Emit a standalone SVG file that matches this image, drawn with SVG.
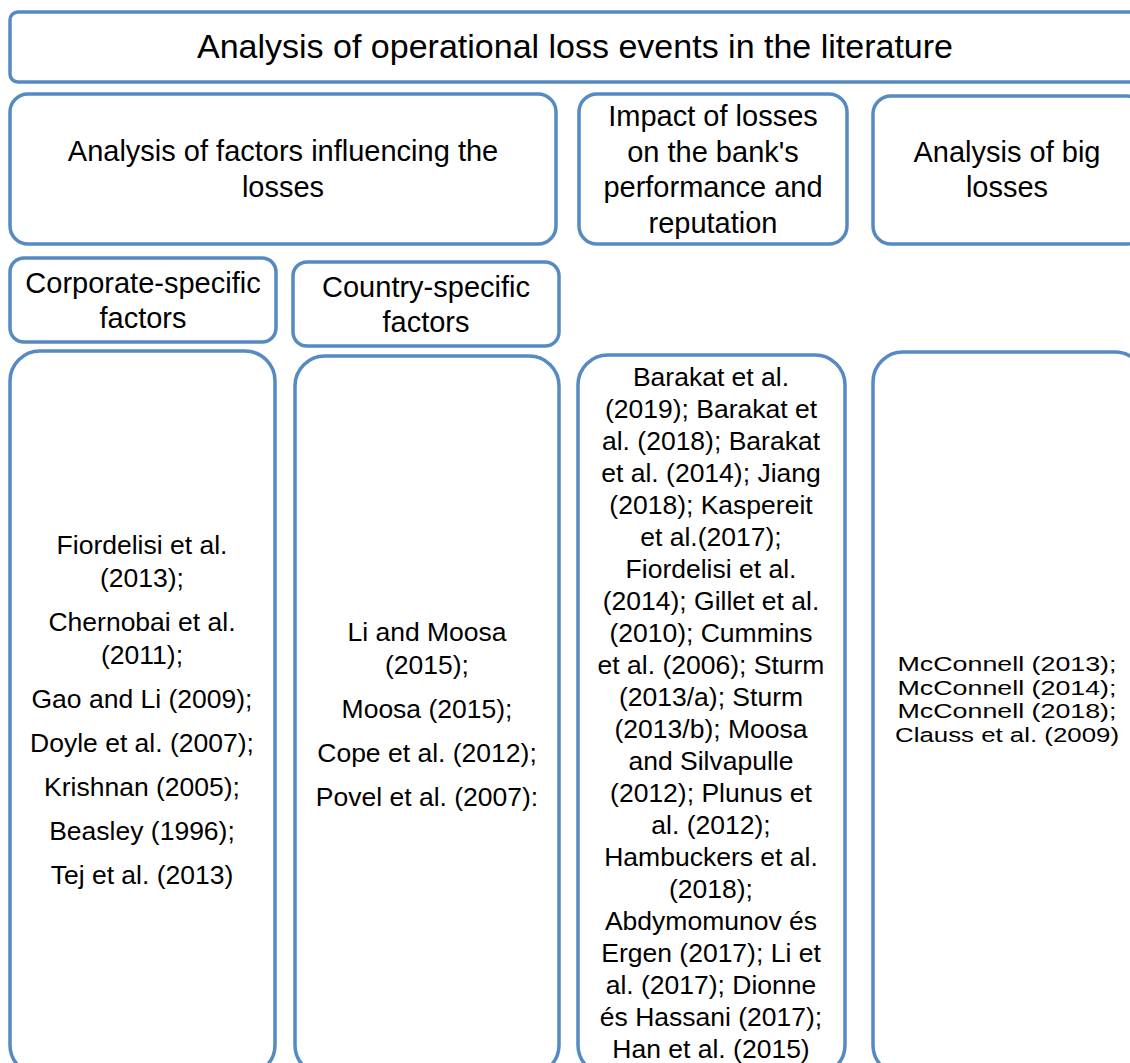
<svg xmlns="http://www.w3.org/2000/svg" width="1130" height="1063" viewBox="0 0 1130 1063">
<style>
.box{fill:#fff;stroke:#558AC2;stroke-width:3.5}
text{font-family:"Liberation Sans",Arial,sans-serif;fill:#000;text-anchor:middle}
.t{font-size:34px}
.h{font-size:29px}
.l{font-size:26.5px}
.s{font-size:20.5px}
</style>
<rect width="1130" height="1063" fill="#fff"/>
<g id="title">
<rect class="box" x="10" y="12" width="1135" height="70" rx="8"/>
<text class="t" x="575" y="58">Analysis of operational loss events in the literature</text>
</g>
<g id="factors">
<rect class="box" x="10" y="94" width="546" height="150" rx="18"/>
<text class="h" x="283" y="161">Analysis of factors influencing the</text>
<text class="h" x="283" y="197">losses</text>
</g>
<g id="impact">
<rect class="box" x="579" y="94" width="268" height="150" rx="18"/>
<text class="h" x="713" y="126">Impact of losses</text>
<text class="h" x="713" y="162">on the bank's</text>
<text class="h" x="713" y="197">performance and</text>
<text class="h" x="713" y="233">reputation</text>
</g>
<g id="big">
<rect class="box" x="873" y="96" width="272" height="148" rx="18"/>
<text class="h" x="1007" y="162">Analysis of big</text>
<text class="h" x="1007" y="197">losses</text>
</g>
<g id="corporate">
<rect class="box" x="10" y="258" width="266" height="84" rx="14"/>
<text class="h" x="143" y="293">Corporate-specific</text>
<text class="h" x="143" y="328">factors</text>
</g>
<g id="country">
<rect class="box" x="293" y="262" width="266" height="84" rx="14"/>
<text class="h" x="426" y="297">Country-specific</text>
<text class="h" x="426" y="332">factors</text>
</g>
<g id="corporate-list">
<rect class="box" x="10" y="351" width="265" height="724" rx="30"/>
<text class="l" x="142" y="554">Fiordelisi et al.</text>
<text class="l" x="142" y="587">(2013);</text>
<text class="l" x="142" y="631">Chernobai et al.</text>
<text class="l" x="142" y="664">(2011);</text>
<text class="l" x="142" y="708">Gao and Li (2009);</text>
<text class="l" x="142" y="752">Doyle et al. (2007);</text>
<text class="l" x="142" y="796">Krishnan (2005);</text>
<text class="l" x="142" y="840">Beasley (1996);</text>
<text class="l" x="142" y="884">Tej et al. (2013)</text>
</g>
<g id="country-list">
<rect class="box" x="295" y="356" width="264" height="719" rx="30"/>
<text class="l" x="427" y="641">Li and Moosa</text>
<text class="l" x="427" y="674">(2015);</text>
<text class="l" x="427" y="718">Moosa (2015);</text>
<text class="l" x="427" y="762">Cope et al. (2012);</text>
<text class="l" x="427" y="806">Povel et al. (2007):</text>
</g>
<g id="impact-list">
<rect class="box" x="578" y="355" width="267" height="720" rx="30"/>
<text class="l" x="711" y="386">Barakat et al.</text>
<text class="l" x="711" y="418">(2019); Barakat et</text>
<text class="l" x="711" y="450">al. (2018); Barakat</text>
<text class="l" x="711" y="482">et al. (2014); Jiang</text>
<text class="l" x="711" y="514">(2018); Kaspereit</text>
<text class="l" x="711" y="546">et al.(2017);</text>
<text class="l" x="711" y="578">Fiordelisi et al.</text>
<text class="l" x="711" y="610">(2014); Gillet et al.</text>
<text class="l" x="711" y="642">(2010); Cummins</text>
<text class="l" x="711" y="674">et al. (2006); Sturm</text>
<text class="l" x="711" y="706">(2013/a); Sturm</text>
<text class="l" x="711" y="738">(2013/b); Moosa</text>
<text class="l" x="711" y="770">and Silvapulle</text>
<text class="l" x="711" y="802">(2012); Plunus et</text>
<text class="l" x="711" y="834">al. (2012);</text>
<text class="l" x="711" y="866">Hambuckers et al.</text>
<text class="l" x="711" y="898">(2018);</text>
<text class="l" x="711" y="930">Abdymomunov és</text>
<text class="l" x="711" y="962">Ergen (2017); Li et</text>
<text class="l" x="711" y="994">al. (2017); Dionne</text>
<text class="l" x="711" y="1026">és Hassani (2017);</text>
<text class="l" x="711" y="1058">Han et al. (2015)</text>
</g>
<g id="big-list">
<rect class="box" x="873" y="352" width="272" height="723" rx="30"/>
<text class="s" x="1007" y="671" textLength="219" lengthAdjust="spacingAndGlyphs">McConnell (2013);</text>
<text class="s" x="1007" y="694.5" textLength="219" lengthAdjust="spacingAndGlyphs">McConnell (2014);</text>
<text class="s" x="1007" y="718" textLength="219" lengthAdjust="spacingAndGlyphs">McConnell (2018);</text>
<text class="s" x="1007" y="741.5" textLength="224" lengthAdjust="spacingAndGlyphs">Clauss et al. (2009)</text>
</g>
<g id="connectors"/>
</svg>
